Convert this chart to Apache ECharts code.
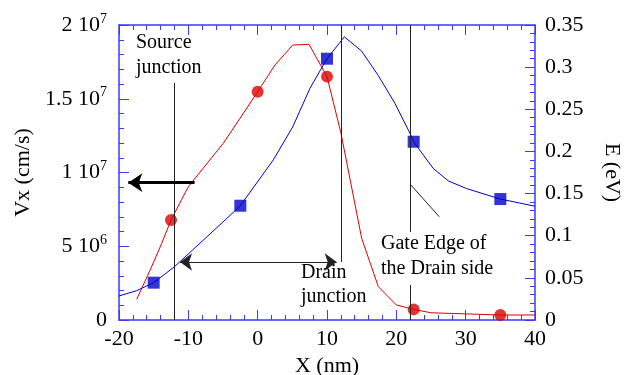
<!DOCTYPE html>
<html>
<head>
<meta charset="utf-8">
<script src="https://cdn.jsdelivr.net/npm/echarts@6/dist/echarts.min.js"></script>
<style>
  html, body { margin: 0; padding: 0; background: #fff; }
  #chart { width: 638px; height: 375px; }
</style>
</head>
<body>
<div id="chart"></div>
<script>
// velocity Vx (left axis, cm/s)
const vxX = [-17.45, -15.5, -13.84, -12.5, -10, -4.96, -2.55, 0, 2.5, 5.05, 7.4, 10, 12, 15, 17.4, 20, 22.5, 25, 35, 40];
const vxY = [1.40e6, 3.39e6, 5.2e6, 6.78e6, 9.04e6, 1.198e7, 1.367e7, 1.548e7, 1.729e7, 1.864e7, 1.869e7, 1.65e7, 1.27e7, 5.54e6, 2.26e6, 1.02e6, 7.2e5, 4.9e5, 3.4e5, 3.4e5];
const vxMarkX = [-12.5, 0, 10, 22.5, 35];
const vxMarkY = [6.78e6, 1.548e7, 1.65e7, 7.2e5, 3.4e5];

// energy E (right axis, eV)
const eX = [-20, -17.45, -15, -12, -4.7, -2.5, 2.26, 5.05, 7.55, 10, 12.5, 15, 17.4, 19.8, 22, 22.5, 25.3, 27.5, 30.1, 35, 40];
const eY = [0.0285, 0.0348, 0.0443, 0.0632, 0.1186, 0.1356, 0.19, 0.229, 0.275, 0.31, 0.336, 0.319, 0.29, 0.257, 0.221, 0.2115, 0.18, 0.165, 0.156, 0.1435, 0.135];
const eMarkX = [-15, -2.5, 10, 22.5, 35];
const eMarkY = [0.0443, 0.1356, 0.31, 0.2115, 0.1435];

const xTicks = { min: -20, max: 40, interval: 10 };
const vxTicks = { min: 0, max: 2e7, interval: 5e6 };
const eTicks = { min: 0, max: 0.35, interval: 0.05 };

const zip = (a, b) => a.map((v, i) => [v, b[i]]);

const font = "'Liberation Serif'";
const axisBlue = '#3a3aff';
const red = '#dd0000';
const blue = '#0000cc';

let chart = echarts.init(document.getElementById('chart'));

function axisStyle() {
  return {
    axisLine: { onZero: false, lineStyle: { color: axisBlue, width: 1.5 } },
    axisTick: { inside: true, length: 10, lineStyle: { color: axisBlue } },
    minorTick: { show: true, splitNumber: 5, length: 5, lineStyle: { color: axisBlue } },
    splitLine: { show: false }
  };
}

function sciLabel(v) {
  if (v === 0) return '0';
  const e = Math.floor(Math.log10(v) + 1e-9);
  const m = Math.round(v / Math.pow(10, e) * 10) / 10;
  return m + ' 10{sup|' + e + '}';
}

const lineColor = '#222';
const annFont = "20px 'Liberation Serif'";

let option = {
  animation: false,
  textStyle: { fontFamily: font },
  grid: { left: 119, right: 103, top: 25, bottom: 55, containLabel: false, outerBoundsMode: 'none' },
  xAxis: [{
    type: 'value',
    min: xTicks.min, max: xTicks.max, interval: xTicks.interval,
    ...axisStyle(),
    axisLabel: { color: '#000', fontSize: 22, fontFamily: font, margin: 8 },
    name: 'X (nm)',
    nameLocation: 'middle',
    nameGap: 27,
    nameTextStyle: { color: '#000', fontSize: 22, fontFamily: font }
  }, {
    type: 'value',
    position: 'top',
    min: xTicks.min, max: xTicks.max, interval: xTicks.interval,
    ...axisStyle(),
    axisLabel: { show: false }
  }],
  yAxis: [{
    type: 'value',
    min: vxTicks.min, max: vxTicks.max, interval: vxTicks.interval,
    ...axisStyle(),
    axisLabel: {
      color: '#000', fontSize: 22, fontFamily: font, margin: 12,
      formatter: sciLabel,
      rich: {
        sup: { fontSize: 14, fontFamily: font, color: '#000', padding: [0, 0, 12, 0] }
      }
    },
    name: 'Vx (cm/s)',
    nameLocation: 'middle',
    nameGap: 84,
    nameTextStyle: { color: '#000', fontSize: 22, fontFamily: font }
  }, {
    type: 'value',
    position: 'right',
    min: eTicks.min, max: eTicks.max, interval: eTicks.interval,
    ...axisStyle(),
    axisLabel: { color: '#000', fontSize: 22, fontFamily: font, margin: 10 },
    name: 'E (eV)',
    nameLocation: 'middle',
    nameRotate: -90,
    nameGap: 66,
    nameTextStyle: { color: '#000', fontSize: 22, fontFamily: font }
  }],
  series: [{
    name: 'Vx',
    type: 'line',
    xAxisIndex: 0, yAxisIndex: 0,
    data: zip(vxX, vxY),
    showSymbol: false,
    lineStyle: { color: red, width: 1 },
    z: 3,
    markLine: {
      silent: true,
      symbol: 'none',
      label: { show: false },
      lineStyle: { color: lineColor, type: 'solid', width: 1 },
      data: [
        // source junction
        [{ coord: [-12, 1.607e7] }, { coord: [-12, 0] }],
        // drain junction
        [{ coord: [12, 2e7] }, { coord: [12, 3.93e6] }],
        // gate edge (broken by the label)
        [{ coord: [22, 2e7] }, { coord: [22, 5.97e6] }],
        [{ coord: [22, 2.37e6] }, { coord: [22, 0] }],
        // pointer to gate edge
        [{ coord: [21.97, 9.22e6] }, { coord: [26.2, 7.0e6] }],
        // drain junction double arrow
        [{ coord: [-11.2, 3.93e6], symbol: 'arrow', symbolSize: [13, 12] },
         { coord: [11.4, 3.93e6], symbol: 'arrow', symbolSize: [13, 12] }],
        // thick arrows pointing at the axes
        [{ coord: [-9.1, 9.31e6], symbol: 'none', lineStyle: { color: '#000', width: 3 } },
         { coord: [-18.66, 9.31e6], symbol: 'arrow', symbolSize: [14, 14] }],
        [{ coord: [25.3, 1.028e7], symbol: 'none', lineStyle: { color: '#000', width: 3 } },
         { coord: [40.1, 1.028e7], symbol: 'arrow', symbolSize: [14, 14] }]
      ]
    }
  }, {
    name: 'Vx marks',
    type: 'scatter',
    xAxisIndex: 0, yAxisIndex: 0,
    data: zip(vxMarkX, vxMarkY),
    symbol: 'circle',
    symbolSize: 12,
    itemStyle: { color: red },
    z: 4
  }, {
    name: 'E',
    type: 'line',
    xAxisIndex: 0, yAxisIndex: 1,
    data: zip(eX, eY),
    showSymbol: false,
    lineStyle: { color: blue, width: 1 },
    z: 3
  }, {
    name: 'E marks',
    type: 'scatter',
    xAxisIndex: 0, yAxisIndex: 1,
    data: zip(eMarkX, eMarkY),
    symbol: 'rect',
    symbolSize: 12,
    itemStyle: { color: blue },
    z: 4
  }],
  graphic: [{
    type: 'text', left: 136, top: 30, z: 10,
    style: { text: 'Source\njunction', font: annFont, fill: '#000', lineHeight: 25 }
  }, {
    type: 'text', left: 301, top: 261, z: 10,
    style: { text: 'Drain\njunction', font: annFont, fill: '#000', lineHeight: 24 }
  }, {
    type: 'text', left: 381, top: 231, z: 10,
    style: { text: 'Gate Edge of\nthe Drain side', font: annFont, fill: '#000', lineHeight: 25 }
  }]
};

chart.setOption(option);
</script>
</body>
</html>
